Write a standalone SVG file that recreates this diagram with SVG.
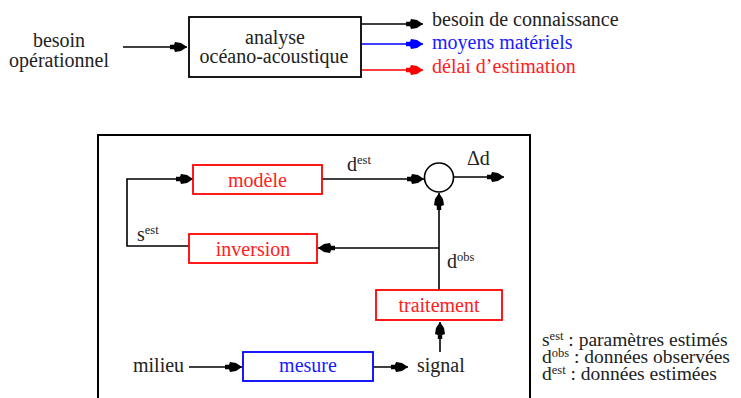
<svg xmlns="http://www.w3.org/2000/svg" width="741" height="398" viewBox="0 0 741 398" font-family="'Liberation Serif', 'Times New Roman', 'DejaVu Serif', serif">
<style>
text{font-size:20px;fill:#222}
.c{text-anchor:middle}
.blue{fill:#1a1aff}
.red{fill:#ff2020}
.ln{fill:none;stroke:#000;stroke-width:1.6}
.bx{fill:#fff;stroke:#000;stroke-width:1.8}
.rbx{fill:#fff;stroke:#ff0000;stroke-width:1.8}
.bbx{fill:#fff;stroke:#0000ff;stroke-width:1.8}
.sup{font-size:12.5px}
.lg{font-size:19.5px}
</style>
<defs>
<marker id="ah" viewBox="0 -6 17 12" refX="17" refY="0" markerWidth="17" markerHeight="12" markerUnits="userSpaceOnUse" orient="auto">
<path d="M0,-2.2 L4,-2.2 L5,-5 L11,-4 L17,0 L11,4 L5,5 L4,2.2 L0,2.2 Z" fill="#000"/>
</marker>
<marker id="ahb" viewBox="0 -6 17 12" refX="17" refY="0" markerWidth="17" markerHeight="12" markerUnits="userSpaceOnUse" orient="auto">
<path d="M0,-2.2 L4,-2.2 L5,-5 L11,-4 L17,0 L11,4 L5,5 L4,2.2 L0,2.2 Z" fill="#0000ff"/>
</marker>
<marker id="ahr" viewBox="0 -6 17 12" refX="17" refY="0" markerWidth="17" markerHeight="12" markerUnits="userSpaceOnUse" orient="auto">
<path d="M0,-2.2 L4,-2.2 L5,-5 L11,-4 L17,0 L11,4 L5,5 L4,2.2 L0,2.2 Z" fill="#ff0000"/>
</marker>
</defs>
<rect width="741" height="398" fill="#fff"/>

<g id="frame">
<rect x="98" y="135" width="432" height="290" fill="none" stroke="#000" stroke-width="2"/>
</g>

<g id="connectors">
<path class="ln" d="M123,47 H187" marker-end="url(#ah)"/>
<path class="ln" d="M361,24 H423" marker-end="url(#ah)"/>
<path class="ln" d="M361,44 H423" style="stroke:#0000ff" marker-end="url(#ahb)"/>
<path class="ln" d="M361,70 H423" style="stroke:#ff0000" marker-end="url(#ahr)"/>
<path class="ln" d="M189,246 H127 V179 H193" marker-end="url(#ah)"/>
<path class="ln" d="M322,179 H424" marker-end="url(#ah)"/>
<path class="ln" d="M454,177 H504" marker-end="url(#ah)"/>
<path class="ln" d="M439,290 V193" marker-end="url(#ah)"/>
<path class="ln" d="M439,248 H318" marker-end="url(#ah)"/>
<path class="ln" d="M440,352 V322" marker-end="url(#ah)"/>
<path class="ln" d="M189,367 H242" marker-end="url(#ah)"/>
<path class="ln" d="M373,367 H408" marker-end="url(#ah)"/>
</g>

<g id="besoin-op">
<text class="c" x="59" y="47">besoin</text>
<text class="c" x="59" y="67">opérationnel</text>
</g>

<g id="analyse">
<rect class="bx" x="189" y="17" width="172" height="60"/>
<text class="c" x="275" y="44">analyse</text>
<text class="c" x="274" y="63">océano-acoustique</text>
</g>

<g id="outputs">
<text x="432" y="26">besoin de connaissance</text>
<text x="432" y="49" class="blue">moyens matériels</text>
<text x="432" y="73" class="red">délai d’estimation</text>
</g>

<g id="modele">
<rect class="rbx" x="193" y="165" width="129" height="29"/>
<text class="c red" x="257.5" y="187">modèle</text>
</g>

<g id="inversion">
<rect class="rbx" x="189" y="234" width="128" height="29"/>
<text class="c red" x="253" y="256">inversion</text>
</g>

<g id="comparateur">
<circle cx="439" cy="177.5" r="14.5" fill="#fff" stroke="#000" stroke-width="1.6"/>
</g>

<g id="traitement">
<rect class="rbx" x="376" y="290" width="126" height="30"/>
<text class="c red" x="439" y="312">traitement</text>
</g>

<g id="mesure">
<rect class="bbx" x="243" y="352" width="130" height="29"/>
<text class="c blue" x="308" y="372">mesure</text>
</g>

<g id="labels">
<text x="347" y="171">d<tspan class="sup" dy="-7">est</tspan></text>
<text x="137" y="241">s<tspan class="sup" dy="-7">est</tspan></text>
<text x="467" y="165">Δd</text>
<text x="447" y="268">d<tspan class="sup" dy="-7">obs</tspan></text>
<text x="133" y="372">milieu</text>
<text x="417" y="372">signal</text>
</g>

<g id="legende">
<text class="lg" x="542" y="346">s<tspan class="sup" dy="-6">est</tspan><tspan dy="6"> : paramètres estimés</tspan></text>
<text class="lg" x="542" y="363">d<tspan class="sup" dy="-6">obs</tspan><tspan dy="6"> : données observées</tspan></text>
<text class="lg" x="542" y="380">d<tspan class="sup" dy="-6">est</tspan><tspan dy="6"> : données estimées</tspan></text>
</g>
</svg>
